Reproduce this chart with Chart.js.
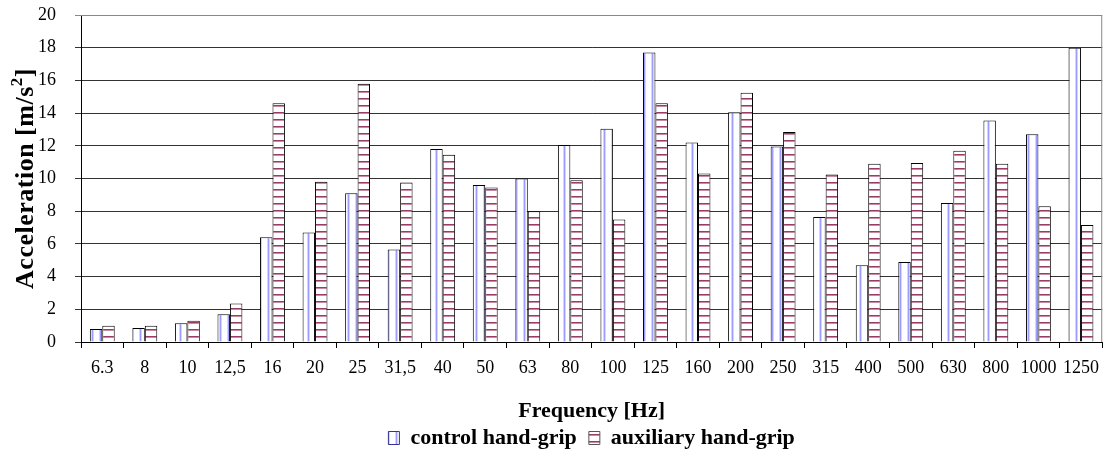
<!DOCTYPE html>
<html>
<head>
<meta charset="utf-8">
<script src="https://cdn.jsdelivr.net/npm/chart.js@4/dist/chart.umd.min.js"></script>
<style>
  html, body { margin: 0; padding: 0; background: #fff; }
  #wrap { width: 1108px; height: 456px; }
</style>
</head>
<body>
<div id="wrap"><canvas id="chart"></canvas></div>
<script>
const frequencies = ["6.3", "8", "10", "12,5", "16", "20", "25", "31,5", "40", "50", "63", "80",
  "100", "125", "160", "200", "250", "315", "400", "500", "630", "800", "1000", "1250"];
const controlGrip = [0.8, 0.85, 1.15, 1.7, 6.4, 6.7, 9.1, 5.65, 11.8, 9.6, 10.0, 12.05,
  13.05, 17.7, 12.2, 14.05, 11.95, 7.65, 4.7, 4.9, 8.5, 13.55, 12.7, 18.0];
const auxiliaryGrip = [1.0, 1.0, 1.3, 2.35, 14.6, 9.8, 15.8, 9.75, 11.45, 9.45, 8.0, 9.9,
  7.5, 14.6, 10.3, 15.25, 12.85, 10.25, 10.9, 10.95, 11.7, 10.9, 8.3, 7.15];
const yTicks = [0, 2, 4, 6, 8, 10, 12, 14, 16, 18, 20];
const yTitle = ["Acceleration [m/s", "2", "]"];

const FONT = '"Liberation Serif", "Times New Roman", serif';

function makePattern(w, h, draw) {
  const c = document.createElement("canvas");
  c.width = w;
  c.height = h;
  const g = c.getContext("2d");
  g.fillStyle = "#fff";
  g.fillRect(0, 0, w, h);
  draw(g);
  return c.getContext("2d").createPattern(c, "repeat");
}

// white with light blue vertical stripe
const bluePattern = makePattern(8, 8, (g) => {
  g.fillStyle = "#d4d4ff";
  g.fillRect(3, 0, 1, 8);
  g.fillRect(5, 0, 1, 8);
  g.fillStyle = "#9c9cff";
  g.fillRect(4, 0, 1, 8);
});

// white with maroon horizontal stripe
const redPattern = makePattern(8, 7, (g) => {
  g.fillStyle = "#9b3a66";
  g.fillRect(0, 0, 8, 1);
  g.fillStyle = "#c98aa6";
  g.fillRect(0, 1, 8, 1);
});

const frame = {
  id: "frame",
  beforeDatasetsDraw(chart) {
    const { ctx, chartArea: a } = chart;
    ctx.save();
    ctx.strokeStyle = "#888";
    ctx.lineWidth = 1;
    ctx.beginPath();
    ctx.moveTo(a.left, a.top + 0.5);
    ctx.lineTo(a.right - 0.5, a.top + 0.5);
    ctx.lineTo(a.right - 0.5, a.bottom);
    ctx.stroke();
    ctx.restore();
  },
  afterDraw(chart) {
    // y axis title with a real superscript
    const { ctx, chartArea: a } = chart;
    ctx.save();
    ctx.fillStyle = "#000";
    ctx.textBaseline = "alphabetic";
    ctx.letterSpacing = "0.5px";
    const big = "bold 26px " + FONT;
    const small = "bold 17px " + FONT;
    ctx.font = big;
    const w1 = ctx.measureText(yTitle[0]).width;
    const w3 = ctx.measureText(yTitle[2]).width;
    ctx.font = small;
    const w2 = ctx.measureText(yTitle[1]).width;
    const total = w1 + w2 + w3;
    ctx.translate(33, (a.top + a.bottom) / 2);
    ctx.rotate(-Math.PI / 2);
    let x = -total / 2;
    ctx.font = big;
    ctx.fillText(yTitle[0], x, 0);
    x += w1;
    ctx.font = small;
    ctx.fillText(yTitle[1], x, -11);
    x += w2;
    ctx.font = big;
    ctx.fillText(yTitle[2], x, 0);
    ctx.restore();
  },
};

new Chart(document.getElementById("chart"), {
  type: "bar",
  data: {
    labels: frequencies,
    datasets: [
      {
        label: "control hand-grip",
        data: controlGrip,
        backgroundColor: bluePattern,
        borderColor: "#000",
        borderWidth: 1,
      },
      {
        label: "auxiliary hand-grip",
        data: auxiliaryGrip,
        backgroundColor: redPattern,
        borderColor: "#000",
        borderWidth: 1,
      },
    ],
  },
  options: {
    responsive: true,
    maintainAspectRatio: false,
    animation: false,
    devicePixelRatio: 1,
    layout: { padding: { left: 0, right: 2, top: 15, bottom: -3 } },
    datasets: { bar: { categoryPercentage: 0.585, barPercentage: 1.0 } },
    plugins: {
      tooltip: { enabled: false },
      legend: {
        position: "bottom",
        fullSize: false,
        labels: {
          font: { family: FONT, size: 22, weight: "bold" },
          color: "#000",
          boxWidth: 11,
          boxHeight: 13,
          padding: 1,
          generateLabels(chart) {
            return chart.data.datasets.map((ds, i) => ({
              text: i === 0 ? ds.label + "  " : ds.label,
              fillStyle: ds.backgroundColor,
              strokeStyle: i === 0 ? "#333399" : "#555",
              lineWidth: 1,
              datasetIndex: i,
              fontColor: "#000",
            }));
          },
        },
      },
    },
    scales: {
      x: {
        offset: true,
        afterFit(axis) {
          axis.height = 84;
        },
        grid: {
          offset: true,
          drawOnChartArea: false,
          color: "#000",
          tickLength: 6,
        },
        border: { color: "#000", width: 1 },
        ticks: {
          font: { family: FONT, size: 18 },
          color: "#000",
          maxRotation: 0,
          autoSkip: false,
          padding: 9,
        },
        title: {
          display: true,
          text: "Frequency [Hz]",
          font: { family: FONT, size: 22, weight: "bold" },
          color: "#000",
          padding: { top: 10, bottom: 1 },
        },
      },
      y: {
        min: 0,
        max: 20,
        afterBuildTicks(axis) {
          axis.ticks = yTicks.map((v) => ({ value: v }));
        },
        afterFit(axis) {
          axis.width = 81;
          axis.paddingTop = 10;
          axis.paddingBottom = 10;
        },
        grid: {
          color: (c) => (c.tick && c.tick.value === 20 ? "#888" : "#333"),
          tickLength: 6,
        },
        border: { color: "#000", width: 1 },
        ticks: {
          font: { family: FONT, size: 18 },
          color: "#000",
          padding: 19,
        },
      },
    },
  },
  plugins: [frame],
});
</script>
</body>
</html>
